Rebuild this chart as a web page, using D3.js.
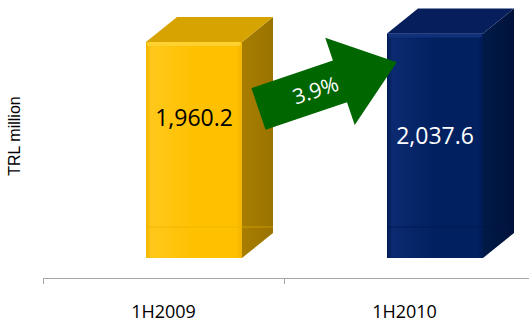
<!DOCTYPE html>
<html><head><meta charset="utf-8">
<script src="https://cdn.jsdelivr.net/npm/d3@7"></script>
<style>html,body{margin:0;padding:0;background:#fff;overflow:hidden}</style>
</head><body>
<svg id="c" width="529" height="323"></svg>
<script>
const categories = ["1H2009", "1H2010"];
const values = [1960.2, 2037.6];
const valueLabels = ["1,960.2", "2,037.6"];
const growthLabel = "3.9%";
const yTitle = "TRL million";

const svg = d3.select("#c");
const W = 529, H = 323;
const x = d3.scaleBand().domain(categories).range([43, 525]).padding(0);
const y = d3.scaleLinear().domain([0, 2300]).range([258, 4.5]);

const fronts = [
  {light:"#FFC81A", mid:"#FFC000", dark:"#F2B500", side:"#A87E00", sideDark:"#9A7300", top:"#D6A300", hl:"#FFD43A", txt:"#000"},
  {light:"#0C2A70", mid:"#002060", dark:"#001B56", side:"#001A47", sideDark:"#00123A", top:"#061E5C", hl:"#143580", txt:"#fff"}
];
const defs = svg.append("defs");
fronts.forEach((f,i)=>{
  const g = defs.append("linearGradient").attr("id","fg"+i).attr("x1",0).attr("x2",1).attr("y1",0).attr("y2",0);
  g.append("stop").attr("offset",0).attr("stop-color",f.dark);
  g.append("stop").attr("offset",0.06).attr("stop-color",f.light);
  g.append("stop").attr("offset",0.5).attr("stop-color",f.mid);
  g.append("stop").attr("offset",0.94).attr("stop-color",f.mid);
  g.append("stop").attr("offset",1).attr("stop-color",f.dark);
  const s = defs.append("linearGradient").attr("id","sg"+i).attr("x1",0).attr("x2",1).attr("y1",0).attr("y2",0);
  s.append("stop").attr("offset",0).attr("stop-color",f.side);
  s.append("stop").attr("offset",1).attr("stop-color",f.sideDark);
});

const dx = 31, dy = -25;
const frontOff = 103, frontW = 96;

const bars = svg.append("g").selectAll("g").data(values).join("g");
bars.each(function(v,i){
  const g = d3.select(this);
  const x0 = x(categories[i]) + frontOff, x1 = x0 + frontW;
  const yt = y(v), yb = y(0);
  const f = fronts[i];
  g.append("path").attr("d",`M${x1},${yt}L${x1+dx},${yt+dy}L${x1+dx},${yb+dy}L${x1},${yb}Z`).attr("fill",`url(#sg${i})`);
  g.append("path").attr("d",`M${x0},${yt}L${x0+dx},${yt+dy}L${x1+dx},${yt+dy}L${x1},${yt}Z`).attr("fill",f.top);
  g.append("rect").attr("x",x0).attr("y",yt).attr("width",frontW).attr("height",yb-yt).attr("fill",`url(#fg${i})`);
  g.append("rect").attr("x",x0+1).attr("y",yt).attr("width",frontW-2).attr("height",4).attr("rx",2).attr("fill",f.hl).attr("opacity",0.8);
  g.append("line").attr("x1",x0).attr("x2",x1+dx).attr("y1",yb-31).attr("y2",yb-31).attr("stroke",i===0?"#E8B000":"#00154A").attr("stroke-width",1).attr("opacity",0.6);
  const labelDy = [75, 102][i];
  g.append("text").attr("x",(x0+x1)/2).attr("y",yt+labelDy).attr("text-anchor","middle").attr("dominant-baseline","central")
    .attr("font-family","Open Sans, sans-serif").attr("font-size",23).attr("fill",f.txt).text(valueLabels[i]);
});

// axis
const ax = svg.append("g").attr("stroke","#A6A6A6").attr("stroke-width",1);
ax.append("line").attr("x1",43).attr("x2",W).attr("y1",278.5).attr("y2",278.5);
categories.forEach(c=>{const b = Math.round(x(c)); ax.append("line").attr("x1",b+0.5).attr("x2",b+0.5).attr("y1",278).attr("y2",284);});
svg.append("g").selectAll("text").data(categories).join("text")
  .attr("x",d=>x(d)+x.bandwidth()/2).attr("y",318).attr("text-anchor","middle")
  .attr("font-family","Open Sans, sans-serif").attr("font-size",18).attr("fill","#000").text(d=>d);

svg.append("text").attr("transform","translate(20,136) rotate(-90)").attr("text-anchor","middle")
  .attr("font-family","Liberation Sans, Arial, sans-serif").attr("font-size",16).attr("fill","#000").text(yTitle);

const arrow = svg.append("g").attr("transform","translate(258.5,109) rotate(-18.7)");
arrow.append("path").attr("d","M0,-22L86,-22L86,-46L146,0L86,46L86,22L0,22Z").attr("fill","#006600");
arrow.append("text").attr("x",60).attr("y",0).attr("text-anchor","middle").attr("dominant-baseline","central")
  .attr("font-family","Open Sans, sans-serif").attr("font-size",21).attr("fill","#fff").text(growthLabel);
</script>
</body></html>
